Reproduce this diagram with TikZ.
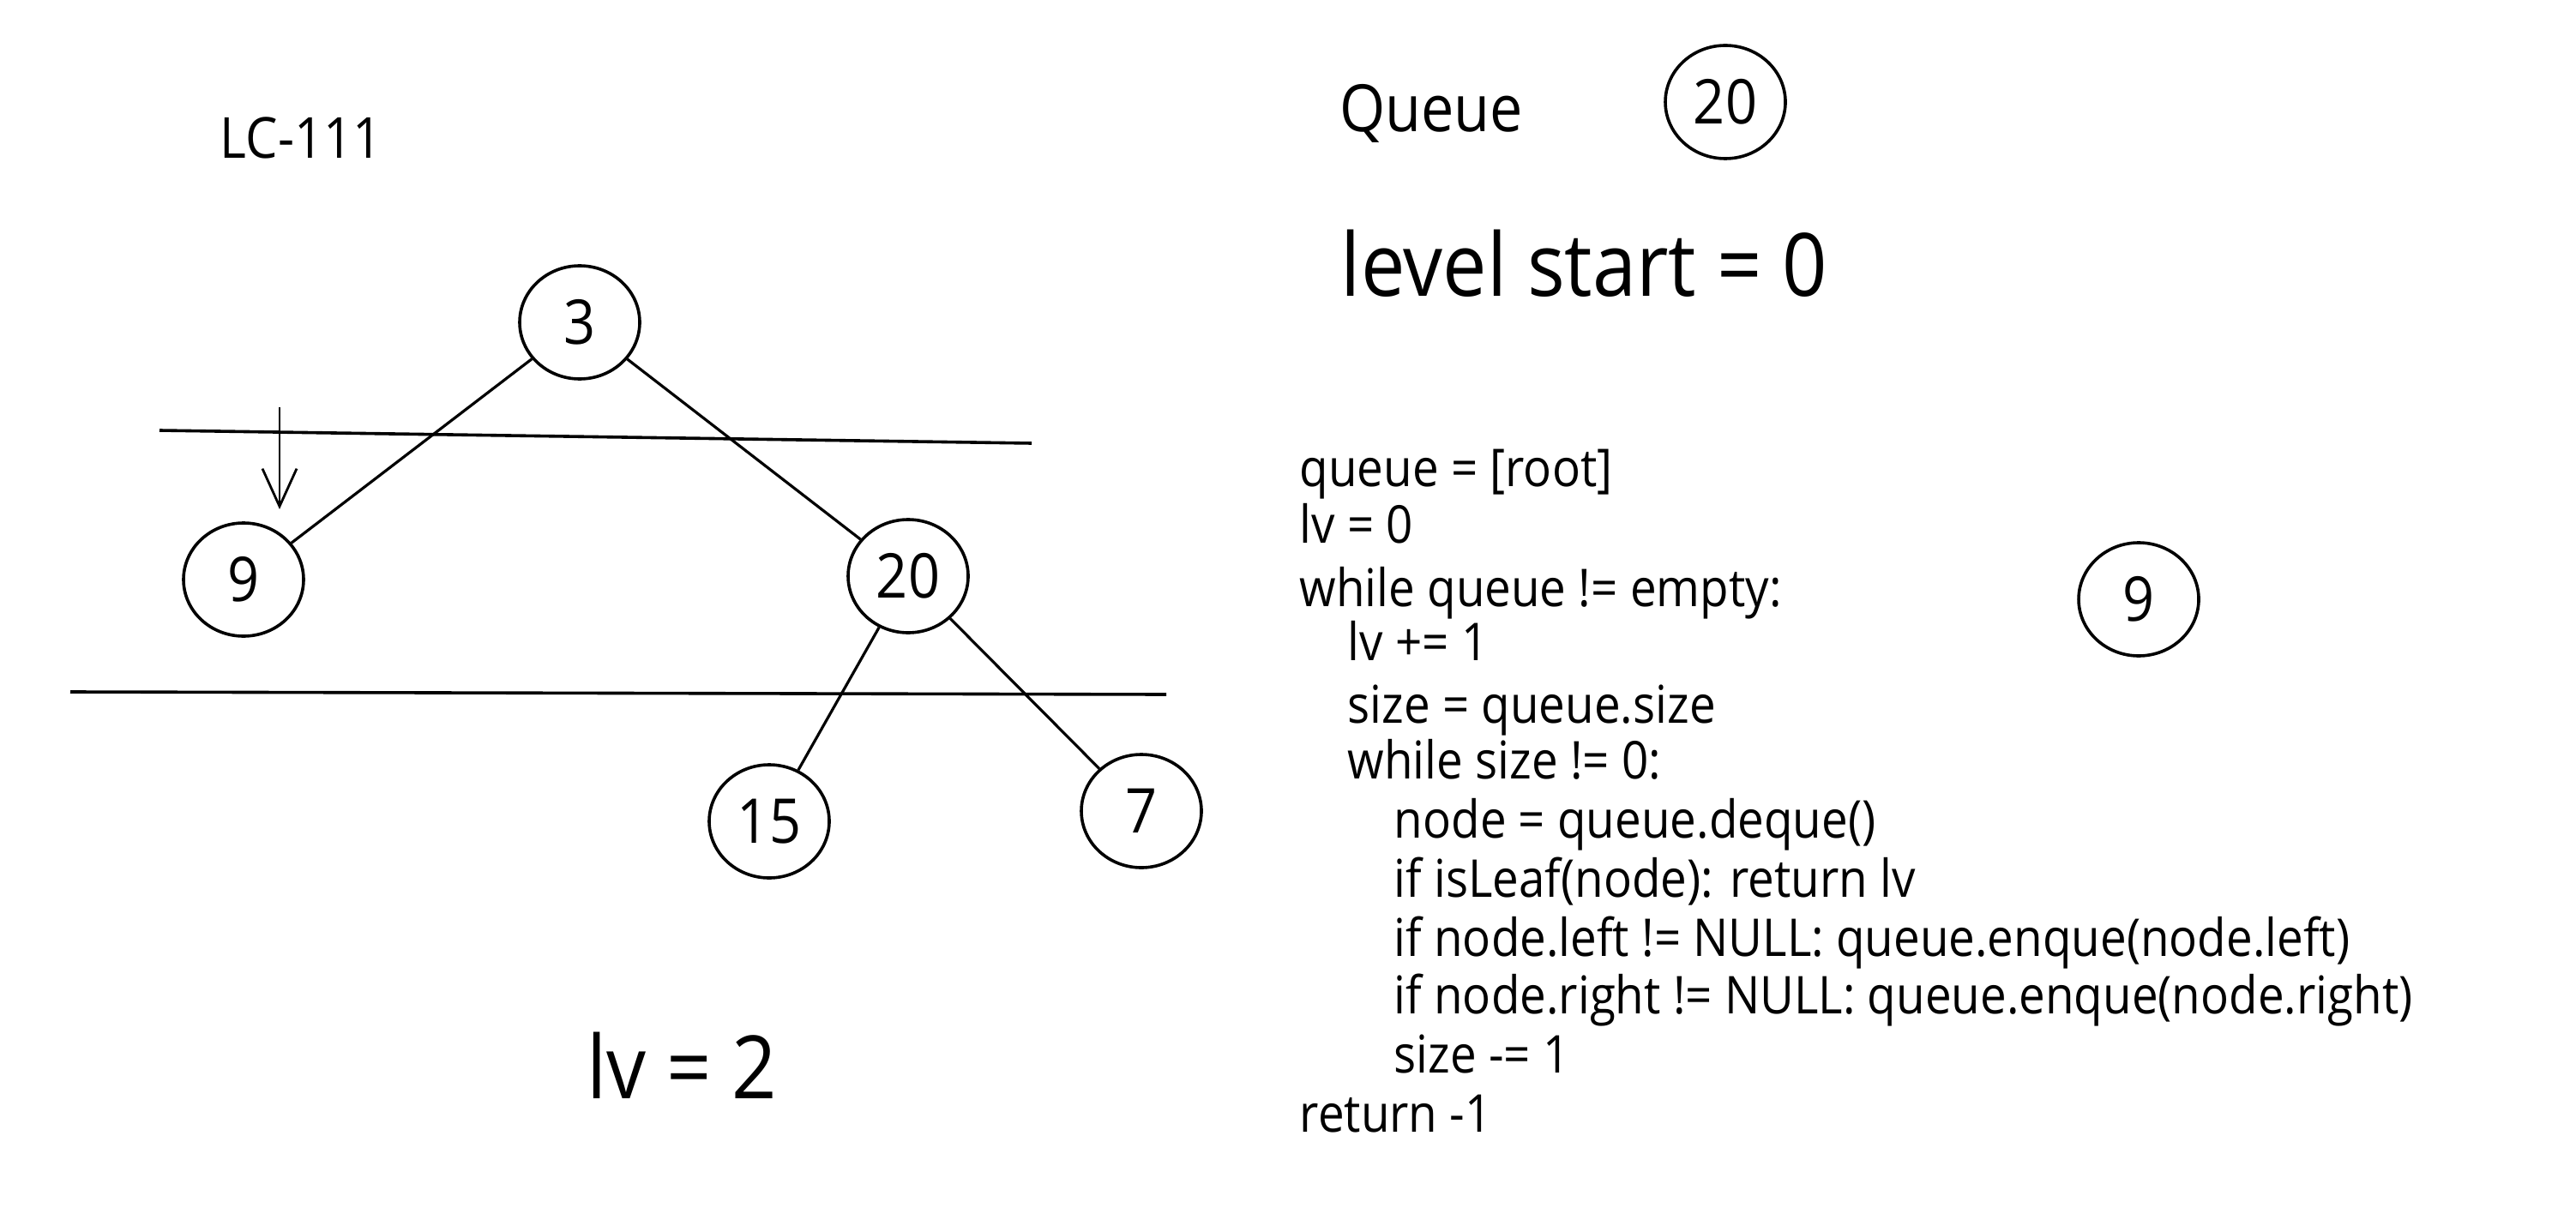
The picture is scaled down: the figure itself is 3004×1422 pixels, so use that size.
\documentclass[tikz,border=0pt]{standalone}
\usepackage{fontspec}
\setmainfont[FakeStretch=0.9]{Open Sans}
\usetikzlibrary{arrows.meta,shapes.geometric}
\begin{document}
\begin{tikzpicture}[x=0.25pt,y=-0.25pt,
  tnode/.style={draw,ellipse,line width=0.9pt,minimum width=35pt,minimum height=33pt,inner sep=0pt,font=\fontsize{18}{22}\selectfont},
  edge/.style={line width=0.8pt},
  sep/.style={line width=0.9pt},
  code/.style={anchor=base west,inner sep=0pt,font=\fontsize{15.2}{18}\selectfont},
  big/.style={inner sep=0pt,font=\fontsize{25.5}{30}\selectfont},
  title/.style={inner sep=0pt,font=\fontsize{19}{22}\selectfont}]
\useasboundingbox (0,0) rectangle (3004,1422);
\fill[white] (0,0) rectangle (3004,1422);
% title
\node[title,font=\fontsize{16.5}{20}\selectfont] (lc) at (351,161) {LC-111};
% tree
\node[tnode] (n3) at (676,376) {3};
\node[tnode] (n9) at (284,676) {9};
\node[tnode] (n20) at (1059,672) {20};
\node[tnode] (n15) at (897,958) {15};
\node[tnode] (n7) at (1331,946) {7};
\draw[edge] (n3) -- (n9);
\draw[edge] (n3) -- (n20);
\draw[edge] (n20) -- (n15);
\draw[edge] (n20) -- (n7);
% level separators
\coordinate (l1a) at (186,502);
\coordinate (l1b) at (1203,517);
\coordinate (l2a) at (82,807);
\coordinate (l2b) at (1360,810);
\draw[sep] (l1a) -- (l1b);
\draw[sep] (l2a) -- (l2b);
% arrow
\coordinate (arA) at (326,475);
\coordinate (arB) at (326,594);
\draw[line width=0.7pt,-{Straight Barb[length=11pt,width=10pt]}] (arA) -- (arB);
% lv = 2
\node[big] (lv2) at (795,1243) {lv = 2};
% queue
\node[title] (qlabel) at (1669,132) {Queue};
\node[tnode] (q20) at (2012,119) {20};
\node[big,anchor=west] (lstart) at (1563,307) {level start = 0};
% right node
\node[tnode] (r9) at (2494,699) {9};
% code
\node[code] (c1) at (1515,567) {queue = [root]};
\node[code] (c2) at (1515,633) {lv = 0};
\node[code] (c3) at (1515,707) {while queue != empty:};
\node[code] (c4) at (1571,770) {lv += 1};
\node[code] (c5) at (1571,843) {size = queue.size};
\node[code] (c6) at (1571,908) {while size != 0:};
\node[code] (c7) at (1625,977) {node = queue.deque()};
\node[code] (c8) at (1625,1046) {if isLeaf(node): return lv};
\node[code] (c9) at (1625,1115) {if node.left != NULL: queue.enque(node.left)};
\node[code] (c10) at (1625,1182) {if node.right != NULL: queue.enque(node.right)};
\node[code] (c11) at (1625,1251) {size -= 1};
\node[code] (c12) at (1515,1320) {return -1};
\end{tikzpicture}
\end{document}
